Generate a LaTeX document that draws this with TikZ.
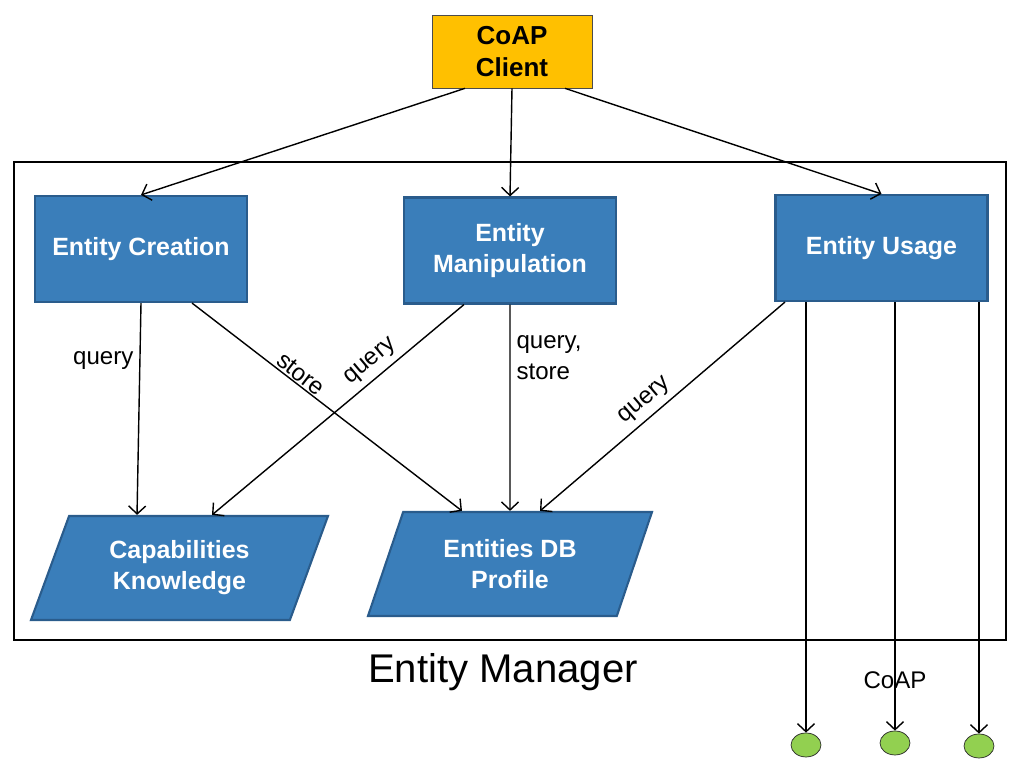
\documentclass[tikz,border=0pt]{standalone}
\usepackage{fontspec}
\setmainfont{Liberation Sans}
\usetikzlibrary{shapes.geometric,arrows.meta}
\definecolor{boxblue}{RGB}{58,126,186}
\definecolor{boxedge}{RGB}{42,92,140}
\definecolor{clientfill}{RGB}{255,192,0}
\definecolor{nodegreen}{RGB}{146,208,80}
\begin{document}
\begin{tikzpicture}[
    >={Straight Barb[length=1.6mm,width=3.4mm]},
    blockbox/.style={draw=boxedge,line width=1.2pt,fill=boxblue,text=white,align=center,
        font=\fontsize{14.2}{18}\selectfont\bfseries,minimum width=4.24cm,minimum height=2.12cm},
    storebox/.style={trapezium,trapezium left angle=60,trapezium right angle=120,trapezium stretches body,
        draw=boxedge,line width=1.2pt,fill=boxblue,text=white,align=center,
        font=\fontsize{14.2}{17.6}\selectfont\bfseries,minimum height=2.08cm},
    lbl/.style={font=\fontsize{13.7}{17.6}\selectfont},
    endpoint/.style={draw=black!85,fill=nodegreen,ellipse,minimum width=0.6cm,minimum height=0.48cm,inner sep=0pt}
]
    \useasboundingbox (0,0) rectangle (20.48,15.42);
    %% entity manager frame
    \draw[line width=1.6pt] (0.28,2.62) rectangle (20.12,12.18);
    \node[font=\fontsize{22.8}{26}\selectfont] (EMgr) at (10.06,1.98) {Entity Manager};
    %% client and modules
    \node[draw=black!70,fill=clientfill,align=center,font=\fontsize{14.8}{18}\selectfont\bfseries,
        minimum width=3.2cm,minimum height=1.46cm] (C) at (10.24,14.39) {CoAP\\Client};
    \node[blockbox] (EC) at (2.82,10.44) {Entity Creation};
    \node[blockbox] (EM) at (10.2,10.41) {Entity\\Manipulation};
    \node[blockbox] (EU) at (17.63,10.46) {Entity Usage};
    %% storage
    \node[storebox,minimum width=5.94cm] (CK) at (3.59,4.06) {Capabilities\\Knowledge};
    \node[storebox,minimum width=5.68cm] (DB) at (10.2,4.14) {Entities DB\\Profile};
    %% devices
    \node[endpoint] (G1) at (16.12,0.52) {};
    \node[endpoint] (G2) at (17.9,0.56) {};
    \node[endpoint] (G3) at (19.58,0.5) {};
    \node[lbl] (P) at (17.9,1.82) {CoAP};
    %% requests
    \draw[thick,->] ([xshift=-0.94cm]C.south) -- (EC.north);
    \draw[thick,->] (C.south) -- (EM.north);
    \draw[thick,->] ([xshift=1.06cm]C.south) -- (EU.north);
    \draw[thick,->] (EC.south) -- ([xshift=-0.85cm]CK.north) node[lbl,pos=0.27,anchor=east] {query};
    \draw[thick,->] ([xshift=1.02cm]EC.south) -- ([xshift=-0.96cm]DB.north) node[lbl,pos=0.38,sloped,above,inner sep=1pt] {store};
    \draw[thick,->] ([xshift=-0.92cm]EM.south) -- ([xshift=0.65cm]CK.north) node[lbl,pos=0.33,sloped,above] {query};
    \draw[thick,->] (EM.south) -- (DB.north) node[lbl,pos=0.12,anchor=north west,align=left] {query,\\store};
    \draw[thick,->] ([xshift=-1.93cm]EU.south) -- ([xshift=0.6cm]DB.north) node[lbl,pos=0.53,sloped,above] {query};
    \draw[thick,->] (EU.south -| G1.north) -- (G1.north);
    \draw[thick,->] (EU.south -| G2.north) -- (G2.north);
    \draw[thick,->] (EU.south -| G3.north) -- (G3.north);
\end{tikzpicture}
\end{document}
